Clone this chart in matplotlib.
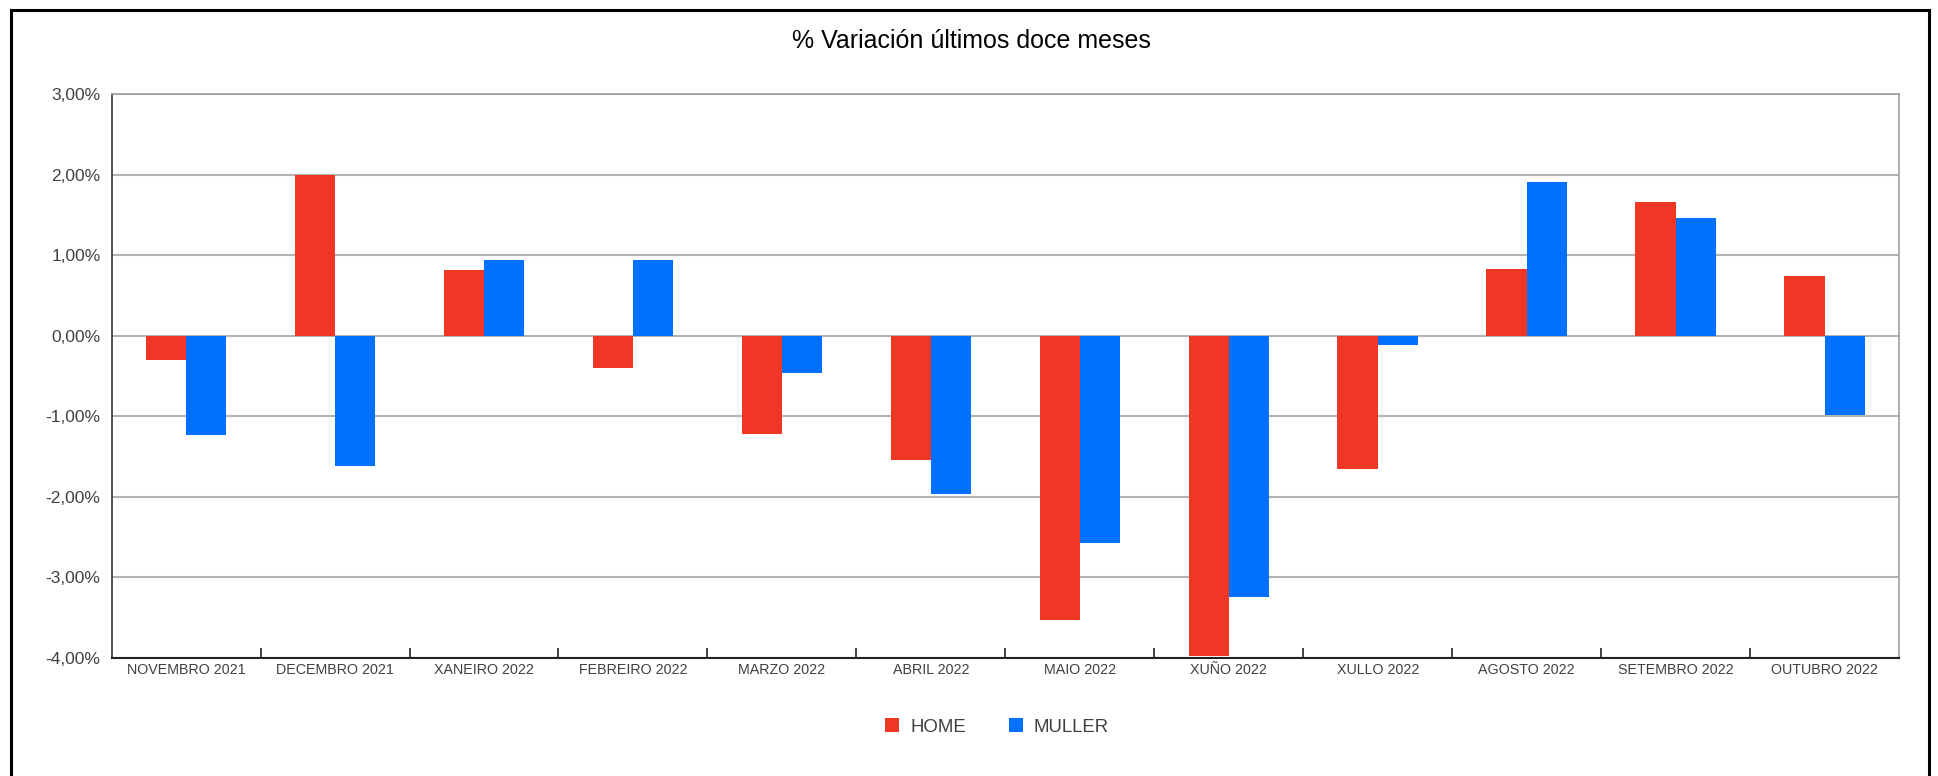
import numpy as np
import matplotlib
matplotlib.use("Agg")
import matplotlib.pyplot as plt
from matplotlib.lines import Line2D
from matplotlib.ticker import FuncFormatter, FixedLocator

plt.rcParams['font.family'] = ['Liberation Sans', 'DejaVu Sans']

# data (% variation, last twelve months)
months = ["NOVEMBRO 2021", "DECEMBRO 2021", "XANEIRO 2022", "FEBREIRO 2022",
          "MARZO 2022", "ABRIL 2022", "MAIO 2022", "XUÑO 2022", "XULLO 2022",
          "AGOSTO 2022", "SETEMBRO 2022", "OUTUBRO 2022"]
home = [-0.30, 2.00, 0.82, -0.40, -1.22, -1.55, -3.53, -3.98, -1.66, 0.83, 1.66, 0.74]
muller = [-1.23, -1.62, 0.94, 0.94, -0.46, -1.97, -2.58, -3.25, -0.12, 1.91, 1.46, -0.98]

red = "#F03726"
blue = "#0070FF"
text_col = "#404040"

fig = plt.figure(figsize=(19.38, 7.76), dpi=100)
ax = fig.add_axes([0.0576, 0.1527, 0.9223, 0.7258])

x = np.arange(len(months))
w = 0.27
ax.bar(x - w / 2, home, width=w, color=red, label="HOME", zorder=3)
ax.bar(x + w / 2, muller, width=w, color=blue, label="MULLER", zorder=3)

ax.set_xlim(-0.5, len(months) - 0.5)
ax.set_ylim(-4, 3)
ax.set_yticks(np.arange(-4, 3.5, 1))
ax.yaxis.set_major_formatter(FuncFormatter(lambda v, p: ("%.2f%%" % v).replace(".", ",")))
ax.grid(axis="y", color="#b3b3b3", linewidth=1.5, zorder=0)
ax.tick_params(axis="y", length=0, labelsize=12.5, labelcolor=text_col, pad=8)

ax.set_xticks(x)
ax.set_xticklabels(months)
ax.tick_params(axis="x", which="major", length=0, labelsize=10.3, labelcolor=text_col, pad=4)
ax.xaxis.set_minor_locator(FixedLocator(np.arange(0.5, len(months) - 1, 1)))
ax.tick_params(axis="x", which="minor", direction="in", length=7, width=1.2, color="#222222")

for s in ["top", "right"]:
    ax.spines[s].set_color("#a0a0a0")
    ax.spines[s].set_linewidth(1.2)
ax.spines["left"].set_color("#333333")
ax.spines["bottom"].set_color("#222222")
ax.spines["left"].set_linewidth(1.2)
ax.spines["bottom"].set_linewidth(1.5)

fig.text(0.5015, 0.947, "% Variación últimos doce meses", ha="center", va="center",
         fontsize=18, color="black")

leg = fig.legend(loc="center", bbox_to_anchor=(0.5145, 0.063), ncol=2, frameon=False,
                 fontsize=13.4, handlelength=0.75, handleheight=0.75, handletextpad=0.6,
                 columnspacing=2.3)
for t in leg.get_texts():
    t.set_color(text_col)

# outer frame (bottom edge falls outside the image)
fw, fh = 1938.0, 776.0
xl, xr, yt = 10.5 / fw, 1928.5 / fw, 1 - 9.5 / fh
for xs, ys in [([xl, xl], [0, yt]), ([xl, xr], [yt, yt]), ([xr, xr], [yt, 0])]:
    fig.add_artist(Line2D(xs, ys, transform=fig.transFigure, color="black", linewidth=2.2))

fig.savefig("out.png", dpi=100)
